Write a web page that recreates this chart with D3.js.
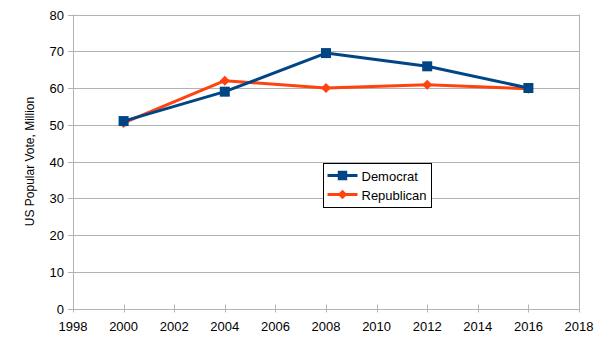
<!DOCTYPE html>
<html>
<head>
<meta charset="utf-8">
<script src="https://cdn.jsdelivr.net/npm/d3@7"></script>
<style>
  body { margin: 0; background: #fff; }
  svg { font-family: "Liberation Sans", Arial, sans-serif; }
</style>
</head>
<body>
<div id="chart"></div>
<script>
// election years and popular vote (millions)
const years = [2000, 2004, 2008, 2012, 2016];
const democrat = [51.0, 59.0, 69.5, 65.9, 60.0];
const republican = [50.5, 62.0, 60.0, 60.9, 59.8];
const xTicks = [1998, 2000, 2002, 2004, 2006, 2008, 2010, 2012, 2014, 2016, 2018];
const yTicks = [0, 10, 20, 30, 40, 50, 60, 70, 80];

const w = 605, h = 340;
const plotLeft = 73, plotRight = 579, plotTop = 14.5, plotBottom = 308.5;

const x = d3.scaleLinear().domain([1998, 2018]).range([plotLeft, plotRight]);
const y = d3.scaleLinear().domain([0, 80]).range([plotBottom, plotTop]);

const svg = d3.select("#chart")
    .append("svg")
    .attr("width", w)
    .attr("height", h);

// horizontal grid
svg.append("g")
    .selectAll("line")
    .data(yTicks)
    .enter()
    .append("line")
    .attr("x1", plotLeft - 5)
    .attr("x2", plotRight)
    .attr("y1", d => Math.round(y(d)) + 0.5)
    .attr("y2", d => Math.round(y(d)) + 0.5)
    .attr("stroke", "#b3b3b3")
    .attr("stroke-width", 1);

// axis lines
svg.append("line")
    .attr("x1", plotLeft + 0.5).attr("x2", plotLeft + 0.5)
    .attr("y1", plotTop).attr("y2", plotBottom)
    .attr("stroke", "#b3b3b3");
svg.append("line")
    .attr("x1", plotRight + 0.5).attr("x2", plotRight + 0.5)
    .attr("y1", plotTop).attr("y2", plotBottom)
    .attr("stroke", "#b3b3b3");

// x ticks
svg.append("g")
    .selectAll("line")
    .data(xTicks)
    .enter()
    .append("line")
    .attr("x1", d => Math.round(x(d)) + 0.5)
    .attr("x2", d => Math.round(x(d)) + 0.5)
    .attr("y1", plotBottom - 4)
    .attr("y2", plotBottom + 4)
    .attr("stroke", "#b3b3b3");

// tick labels
svg.append("g")
    .selectAll("text")
    .data(yTicks)
    .enter()
    .append("text")
    .attr("x", plotLeft - 9)
    .attr("y", d => y(d) + 5)
    .attr("text-anchor", "end")
    .style("font-size", "13px")
    .style("fill", "#000")
    .text(d => d);

svg.append("g")
    .selectAll("text")
    .data(xTicks)
    .enter()
    .append("text")
    .attr("x", d => x(d))
    .attr("y", plotBottom + 22)
    .attr("text-anchor", "middle")
    .style("font-size", "13px")
    .style("fill", "#000")
    .text(d => d);

// y axis title
svg.append("text")
    .attr("transform", "translate(34," + ((plotTop + plotBottom) / 2) + ") rotate(-90)")
    .attr("text-anchor", "middle")
    .style("font-size", "12px")
    .style("fill", "#000")
    .text("US Popular Vote, Million");

const line = d3.line()
    .x(d => x(d[0]))
    .y(d => y(d[1]));

// diamonds are squares turned 45 degrees
const series = [
    { name: "Democrat", values: democrat, color: "#004586", size: 100, rot: 0 },
    { name: "Republican", values: republican, color: "#ff420e", size: 50, rot: 45 }
];

// draw republican first so democrat sits on top
[series[1], series[0]].forEach(s => {
    const pts = years.map((yr, i) => [yr, s.values[i]]);
    svg.append("path")
        .datum(pts)
        .attr("d", line)
        .attr("fill", "none")
        .attr("stroke", s.color)
        .attr("stroke-width", 3)
        .attr("stroke-linejoin", "round");
    svg.append("g")
        .selectAll("path")
        .data(pts)
        .enter()
        .append("path")
        .attr("d", d3.symbol().type(d3.symbolSquare).size(s.size))
        .attr("transform", d => "translate(" + x(d[0]) + "," + y(d[1]) + ") rotate(" + s.rot + ")")
        .attr("fill", s.color);
});

// legend
const legend = svg.append("g").attr("transform", "translate(323.5,163.5)");
legend.append("rect")
    .attr("width", 108)
    .attr("height", 44)
    .attr("fill", "#fff")
    .attr("stroke", "#000");

series.forEach((s, i) => {
    const ly = 12 + i * 19;
    legend.append("line")
        .attr("x1", 4).attr("x2", 34)
        .attr("y1", ly).attr("y2", ly)
        .attr("stroke", s.color)
        .attr("stroke-width", 3);
    legend.append("path")
        .attr("d", d3.symbol().type(d3.symbolSquare).size(s.size * 0.9))
        .attr("transform", "translate(19," + ly + ") rotate(" + s.rot + ")")
        .attr("fill", s.color);
    legend.append("text")
        .attr("x", 38)
        .attr("y", ly + 5)
        .style("font-size", "13px")
        .style("fill", "#000")
        .text(s.name);
});
</script>
</body>
</html>
